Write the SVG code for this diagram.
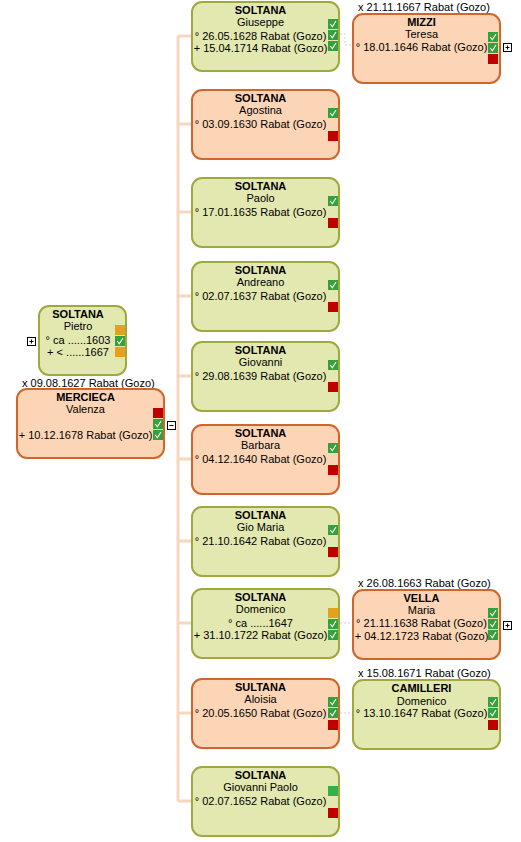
<svg xmlns="http://www.w3.org/2000/svg" xmlns:xlink="http://www.w3.org/1999/xlink" width="521" height="842" viewBox="0 0 521 842">
<style>
text{font-family:"Liberation Sans",Arial,sans-serif;font-size:11px;fill:#000}
.t{text-anchor:middle}
.b{font-weight:bold}
.g{fill:#e3e8b0;stroke:#a0a83e;stroke-width:2}
.o{fill:#fcd5b6;stroke:#d2652a;stroke-width:2}
.ln{stroke:#f8d8bd;stroke-width:3;fill:none}
.sp{stroke:#d9cfc6;stroke-width:1;fill:none;stroke-dasharray:2,2}
.spr{stroke:#f0bfbf;stroke-width:1;fill:none;stroke-dasharray:2,2}
.bx{fill:#fff;stroke:#000;stroke-width:1}
</style>
<defs>
<g id="chk"><rect width="10" height="10" fill="#34a23a"/><path d="M2.3,5 L4.3,7.8 L8,2" stroke="#fff" stroke-width="1.1" fill="none"/></g>
<rect id="red" width="10" height="10" fill="#c00000"/>
<rect id="org" width="10" height="10" fill="#e3a21c"/>
<rect id="grn" width="10" height="10" fill="#2eb34a"/>
<g id="plus"><rect class="bx" x="0.5" y="0.5" width="8" height="8"/><path d="M2.5,4.5 H6.5 M4.5,2.5 V6.5" stroke="#000" stroke-width="1"/></g>
<g id="minus"><rect class="bx" x="0.5" y="0.5" width="8" height="8"/><path d="M2.5,4.5 H6.5" stroke="#000" stroke-width="1"/></g>
</defs>

<g id="connectors">
<path class="ln" d="M178,36 V801"/>
<path class="ln" d="M178,36 H192 M178,124 H192 M178,212 H192 M178,296 H192 M178,376 H192 M178,459 H192 M178,541 H192 M178,623 H192 M178,713 H192 M178,801 H192"/>
<path class="sp" d="M340,34 H345 V45 H352"/>
<path class="spr" d="M340,623 H352"/>
<path class="spr" d="M340,713 H352"/>
</g>

<g id="pietro">
<rect class="g" x="39" y="306" width="87" height="69" rx="10"/>
<text class="t b" x="78" y="317.5">SOLTANA</text>
<text class="t" x="78" y="329.5">Pietro</text>
<text class="t" x="78" y="343.5">° ca ......1603</text>
<text class="t" x="78" y="355.5">+ &lt; ......1667</text>
<use xlink:href="#org" x="115" y="325"/>
<use xlink:href="#chk" x="115" y="336"/>
<use xlink:href="#org" x="115" y="347"/>
<use xlink:href="#plus" x="27" y="337"/>
</g>

<g id="valenza">
<text x="22" y="387">x 09.08.1627 Rabat (Gozo)</text>
<rect class="o" x="17" y="389" width="147" height="69" rx="10"/>
<text class="t b" x="85.5" y="400.5">MERCIECA</text>
<text class="t" x="85.5" y="412.5">Valenza</text>
<text class="t" x="85.5" y="438.5">+ 10.12.1678 Rabat (Gozo)</text>
<use xlink:href="#red" x="153" y="408"/>
<use xlink:href="#chk" x="153" y="419"/>
<use xlink:href="#chk" x="153" y="430"/>
<use xlink:href="#minus" x="167" y="421"/>
</g>

<g id="giuseppe">
<rect class="g" x="192" y="2" width="147" height="69" rx="10"/>
<text class="t b" x="260.5" y="13.5">SOLTANA</text>
<text class="t" x="260.5" y="25.5">Giuseppe</text>
<text class="t" x="260.5" y="39.5">° 26.05.1628 Rabat (Gozo)</text>
<text class="t" x="260.5" y="51.5">+ 15.04.1714 Rabat (Gozo)</text>
<use xlink:href="#chk" x="328" y="19"/>
<use xlink:href="#chk" x="328" y="30"/>
<use xlink:href="#chk" x="328" y="41"/>
</g>

<g id="mizzi">
<text x="358" y="10.5">x 21.11.1667 Rabat (Gozo)</text>
<rect class="o" x="353" y="14" width="147" height="69" rx="10"/>
<text class="t b" x="421.5" y="25.5">MIZZI</text>
<text class="t" x="421.5" y="37.5">Teresa</text>
<text class="t" x="421.5" y="51">° 18.01.1646 Rabat (Gozo)</text>
<use xlink:href="#chk" x="488" y="32"/>
<use xlink:href="#chk" x="488" y="43"/>
<use xlink:href="#red" x="488" y="54"/>
<use xlink:href="#plus" x="503" y="43"/>
</g>

<g id="agostina">
<rect class="o" x="192" y="90" width="147" height="69" rx="10"/>
<text class="t b" x="260.5" y="101.5">SOLTANA</text>
<text class="t" x="260.5" y="113.5">Agostina</text>
<text class="t" x="260.5" y="127.5">° 03.09.1630 Rabat (Gozo)</text>
<use xlink:href="#chk" x="328" y="108"/>
<use xlink:href="#red" x="328" y="131"/>
</g>

<g id="paolo">
<rect class="g" x="192" y="178" width="147" height="69" rx="10"/>
<text class="t b" x="260.5" y="189.5">SOLTANA</text>
<text class="t" x="260.5" y="201.5">Paolo</text>
<text class="t" x="260.5" y="215.5">° 17.01.1635 Rabat (Gozo)</text>
<use xlink:href="#chk" x="328" y="196"/>
<use xlink:href="#red" x="328" y="218"/>
</g>

<g id="andreano">
<rect class="g" x="192" y="262" width="147" height="69" rx="10"/>
<text class="t b" x="260.5" y="273.5">SOLTANA</text>
<text class="t" x="260.5" y="285.5">Andreano</text>
<text class="t" x="260.5" y="299.5">° 02.07.1637 Rabat (Gozo)</text>
<use xlink:href="#chk" x="328" y="280"/>
<use xlink:href="#red" x="328" y="302"/>
</g>

<g id="giovanni">
<rect class="g" x="192" y="342" width="147" height="69" rx="10"/>
<text class="t b" x="260.5" y="353.5">SOLTANA</text>
<text class="t" x="260.5" y="365.5">Giovanni</text>
<text class="t" x="260.5" y="379.5">° 29.08.1639 Rabat (Gozo)</text>
<use xlink:href="#chk" x="328" y="360"/>
<use xlink:href="#red" x="328" y="382"/>
</g>

<g id="barbara">
<rect class="o" x="192" y="425" width="147" height="69" rx="10"/>
<text class="t b" x="260.5" y="436.5">SOLTANA</text>
<text class="t" x="260.5" y="448.5">Barbara</text>
<text class="t" x="260.5" y="462.5">° 04.12.1640 Rabat (Gozo)</text>
<use xlink:href="#chk" x="328" y="443"/>
<use xlink:href="#red" x="328" y="465"/>
</g>

<g id="giomaria">
<rect class="g" x="192" y="507" width="147" height="69" rx="10"/>
<text class="t b" x="260.5" y="518.5">SOLTANA</text>
<text class="t" x="260.5" y="530.5">Gio Maria</text>
<text class="t" x="260.5" y="544.5">° 21.10.1642 Rabat (Gozo)</text>
<use xlink:href="#chk" x="328" y="525"/>
<use xlink:href="#red" x="328" y="547"/>
</g>

<g id="domenico">
<rect class="g" x="192" y="589" width="147" height="69" rx="10"/>
<text class="t b" x="260.5" y="600.5">SOLTANA</text>
<text class="t" x="260.5" y="612.5">Domenico</text>
<text class="t" x="260.5" y="626.5">° ca ......1647</text>
<text class="t" x="260.5" y="638.5">+ 31.10.1722 Rabat (Gozo)</text>
<use xlink:href="#org" x="328" y="608"/>
<use xlink:href="#chk" x="328" y="619"/>
<use xlink:href="#chk" x="328" y="630"/>
</g>

<g id="vella">
<text x="358" y="586.5">x 26.08.1663 Rabat (Gozo)</text>
<rect class="o" x="353" y="590" width="147" height="69" rx="10"/>
<text class="t b" x="421.5" y="601.5">VELLA</text>
<text class="t" x="421.5" y="613.5">Maria</text>
<text class="t" x="421.5" y="627">° 21.11.1638 Rabat (Gozo)</text>
<text class="t" x="421.5" y="639.5">+ 04.12.1723 Rabat (Gozo)</text>
<use xlink:href="#chk" x="488" y="608"/>
<use xlink:href="#chk" x="488" y="619"/>
<use xlink:href="#chk" x="488" y="630"/>
<use xlink:href="#plus" x="503" y="621"/>
</g>

<g id="aloisia">
<rect class="o" x="192" y="679" width="147" height="69" rx="10"/>
<text class="t b" x="260.5" y="690.5">SULTANA</text>
<text class="t" x="260.5" y="702.5">Aloisia</text>
<text class="t" x="260.5" y="716.5">° 20.05.1650 Rabat (Gozo)</text>
<use xlink:href="#chk" x="328" y="697"/>
<use xlink:href="#chk" x="328" y="708"/>
<use xlink:href="#red" x="328" y="720"/>
</g>

<g id="camilleri">
<text x="358" y="677">x 15.08.1671 Rabat (Gozo)</text>
<rect class="g" x="353" y="680" width="147" height="69" rx="10"/>
<text class="t b" x="421.5" y="691.5">CAMILLERI</text>
<text class="t" x="421.5" y="704.5">Domenico</text>
<text class="t" x="421.5" y="716.5">° 13.10.1647 Rabat (Gozo)</text>
<use xlink:href="#chk" x="488" y="697"/>
<use xlink:href="#chk" x="488" y="708"/>
<use xlink:href="#red" x="488" y="720"/>
</g>

<g id="giovannipaolo">
<rect class="g" x="192" y="767" width="147" height="69" rx="10"/>
<text class="t b" x="260.5" y="778.5">SOLTANA</text>
<text class="t" x="260.5" y="790.5">Giovanni Paolo</text>
<text class="t" x="260.5" y="804.5">° 02.07.1652 Rabat (Gozo)</text>
<use xlink:href="#grn" x="328" y="786"/>
<use xlink:href="#red" x="328" y="808"/>
</g>
</svg>
